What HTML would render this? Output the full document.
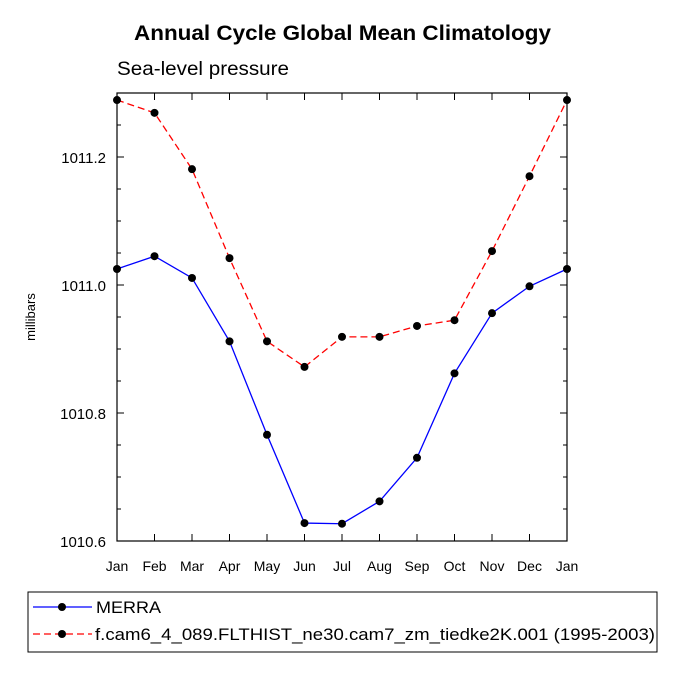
<!DOCTYPE html>
<html><head><meta charset="utf-8"><style>
body{margin:0;background:#fff;}
svg text{font-family:"Liberation Sans",Arial,sans-serif;}
</style></head><body>
<svg id="chart" width="675" height="675" xmlns="http://www.w3.org/2000/svg">
<text x="134" y="40" font-size="21" font-weight="bold" textLength="417" lengthAdjust="spacingAndGlyphs">Annual Cycle Global Mean Climatology</text>
<text x="117" y="75" font-size="19" textLength="172" lengthAdjust="spacingAndGlyphs">Sea-level pressure</text>
<text transform="translate(35,317) rotate(-90)" text-anchor="middle" font-size="13">millibars</text>
<rect x="117" y="93" width="450" height="448" fill="none" stroke="#000" stroke-width="1.2"/>
<g id="axes"></g>
<g id="series"></g>
<g>
<rect x="28" y="592" width="629" height="60" fill="none" stroke="#000" stroke-width="1"/>
<g>
<line x1="33" y1="607" x2="92" y2="607" stroke="#0000ff" stroke-width="1.3"/>
<circle cx="62" cy="607" r="4" fill="#000"/>
<text x="96" y="613" font-size="17" textLength="65" lengthAdjust="spacingAndGlyphs">MERRA</text></g>
<g>
<line x1="33" y1="634" x2="92" y2="634" stroke="#ff0000" stroke-width="1.3" stroke-dasharray="7,4"/>
<circle cx="62" cy="634" r="4" fill="#000"/>
<text x="95" y="640" font-size="17" textLength="560" lengthAdjust="spacingAndGlyphs">f.cam6_4_089.FLTHIST_ne30.cam7_zm_tiedke2K.001 (1995-2003)</text></g>
</g>
</svg>
<script>
const months=["Jan","Feb","Mar","Apr","May","Jun","Jul","Aug","Sep","Oct","Nov","Dec","Jan"];
const merra=[1011.025,1011.045,1011.011,1010.912,1010.766,1010.628,1010.627,1010.662,1010.730,1010.862,1010.956,1010.998,1011.025];
const model=[1011.289,1011.269,1011.181,1011.042,1010.912,1010.872,1010.919,1010.919,1010.936,1010.945,1011.053,1011.170,1011.289];
const yTicks=[1010.6,1010.8,1011.0,1011.2];
const yTickLabels=["1010.6","1010.8","1011.0","1011.2"];
const NS="http://www.w3.org/2000/svg";
const X0=117,X1=567,Y0=541,Y1=93,YMIN=1010.6,YMAX=1011.3;
function xs(i){return X0+(X1-X0)*i/(months.length-1);}
function ys(v){return Y0-(v-YMIN)/(YMAX-YMIN)*(Y0-Y1);}
function mk(tag,attrs,parent){const e=document.createElementNS(NS,tag);for(const k in attrs)e.setAttribute(k,attrs[k]);parent.appendChild(e);return e;}
const ax=document.getElementById('axes');
months.forEach((m,i)=>{
 const x=xs(i);
 const t1=mk('line',{x1:x,y1:Y0,x2:x,y2:Y0-7,stroke:'#000'},ax);
 
 
 mk('line',{x1:x,y1:Y1,x2:x,y2:Y1+7,stroke:'#000'},ax);
 const t=mk('text',{x:x,y:Y0+30,'text-anchor':'middle','font-size':'14'},ax);
 t.textContent=m;
 
 
});
for(let v=YMIN;v<=YMAX+1e-9;v+=0.05){
 const y=ys(v);
 const major=Math.abs(Math.round(v*5)-v*5)<1e-6;
 const L=major?7:4;
 mk('line',{x1:X0,y1:y,x2:X0+L,y2:y,stroke:'#000'},ax);
 mk('line',{x1:X1,y1:y,x2:X1-L,y2:y,stroke:'#000'},ax);
}
yTicks.forEach((v,i)=>{
 const t=mk('text',{x:X0-11,y:ys(v)+6,'text-anchor':'end','font-size':'15'},ax);
 t.textContent=yTickLabels[i];
 
 
});
const sg=document.getElementById('series');
function draw(vals,color,dash,name){
 const p=mk('polyline',{points:vals.map((v,i)=>xs(i)+','+ys(v)).join(' '),fill:'none',stroke:color,'stroke-width':'1.3'},sg);
 if(dash)p.setAttribute('stroke-dasharray',dash);
 
 
 vals.forEach((v,i)=>{
  const c=mk('circle',{cx:xs(i),cy:ys(v),r:4,fill:'#000'},sg);
  
  
 });
}
draw(merra,'#0000ff',null,'merra');
draw(model,'#ff0000','7,4','model');
</script>
</body></html>
